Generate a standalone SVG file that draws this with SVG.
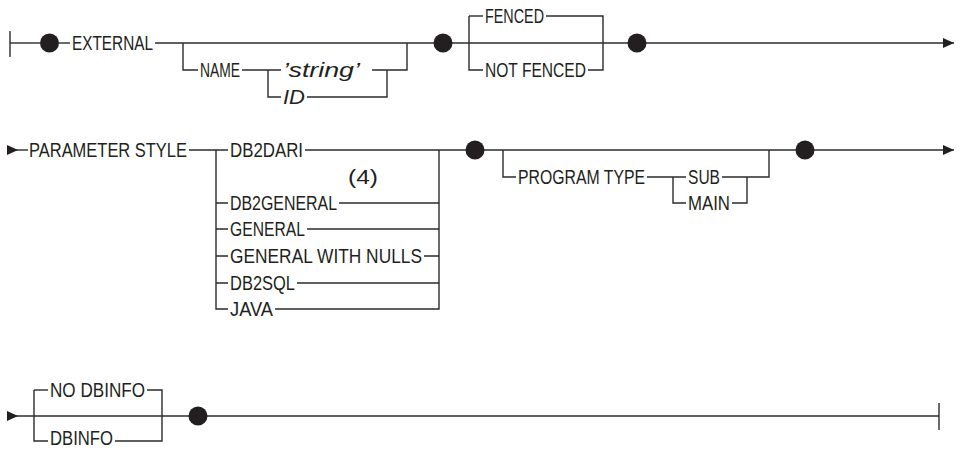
<svg xmlns="http://www.w3.org/2000/svg" width="962" height="450" viewBox="0 0 962 450">
<defs>
<style>
.ln{fill:none;stroke:#2b2b2b;stroke-width:1.4}
.t{font-family:"Liberation Sans",Arial,sans-serif;font-size:20px;fill:#231f20}
.i{font-style:italic}
.dot{fill:#231f20}
</style>
<marker id="ae" markerUnits="userSpaceOnUse" markerWidth="12" markerHeight="10" refX="11" refY="5" orient="auto"><path d="M0 0 L11 5 L0 10 Z" fill="#231f20"/></marker>
<marker id="as" markerUnits="userSpaceOnUse" markerWidth="12" markerHeight="10" refX="0" refY="5" orient="auto"><path d="M0 0 L11 5 L0 10 Z" fill="#231f20"/></marker>
</defs>
<rect width="962" height="450" fill="#ffffff"/>
<g id="connectors" class="ln">
<path d="M10 31 V57"/>
<path d="M10 43 H40"/>
<path d="M59 43 H70"/>
<path d="M155 43 H954" marker-end="url(#ae)"/>
<path d="M183 43 V70 H198"/>
<path d="M242 70 H281"/>
<path d="M268 70 V97 H281"/>
<path d="M372 70 H407 V43"/>
<path d="M307 97 H387 V70"/>
<path d="M469 16 V70 H483"/>
<path d="M469 16 H483"/>
<path d="M546 16 H603 V70 H588"/>
<path d="M7 150 H28" marker-start="url(#as)"/>
<path d="M189 150 H228"/>
<path d="M216 150 V309 H228"/>
<path d="M216 203 H228 M216 229 H228 M216 256 H228 M216 283 H228"/>
<path d="M305 150 H954" marker-end="url(#ae)"/>
<path d="M339 203 H439 M307 229 H439 M424 256 H439 M297 283 H439"/>
<path d="M275 309 H439 V150"/>
<path d="M503 150 V177 H516"/>
<path d="M647 177 H686"/>
<path d="M673 177 V203 H686"/>
<path d="M722 177 H769 V150"/>
<path d="M732 203 H747 V177"/>
<path d="M7 416 H939" marker-start="url(#as)"/>
<path d="M939 403 V430"/>
<path d="M34 390 V441 H48"/>
<path d="M34 390 H48"/>
<path d="M147 390 H162 V441 H115"/>
</g>
<g id="dot1"><circle class="dot" cx="49.5" cy="43" r="9.5"/></g>
<g id="dot2"><circle class="dot" cx="443" cy="43" r="9.5"/></g>
<g id="dot3"><circle class="dot" cx="637" cy="43" r="9.5"/></g>
<g id="dot4"><circle class="dot" cx="475" cy="150" r="9.5"/></g>
<g id="dot5"><circle class="dot" cx="805" cy="150" r="9.5"/></g>
<g id="dot6"><circle class="dot" cx="198" cy="416" r="9.5"/></g>
<g id="n-external"><text class="t" x="72" y="50" textLength="81" lengthAdjust="spacingAndGlyphs">EXTERNAL</text></g>
<g id="n-name"><text class="t" x="200" y="77" textLength="40" lengthAdjust="spacingAndGlyphs">NAME</text></g>
<g id="n-string"><text class="t i" x="283" y="77" textLength="77" lengthAdjust="spacingAndGlyphs">’string’</text></g>
<g id="n-id"><text class="t i" x="283" y="104" textLength="22" lengthAdjust="spacingAndGlyphs">ID</text></g>
<g id="n-fenced"><text class="t" x="485" y="23" textLength="59" lengthAdjust="spacingAndGlyphs">FENCED</text></g>
<g id="n-notfenced"><text class="t" x="485" y="77" textLength="101" lengthAdjust="spacingAndGlyphs">NOT FENCED</text></g>
<g id="n-paramstyle"><text class="t" x="29" y="157" textLength="158" lengthAdjust="spacingAndGlyphs">PARAMETER STYLE</text></g>
<g id="n-db2dari"><text class="t" x="230" y="157" textLength="73" lengthAdjust="spacingAndGlyphs">DB2DARI</text></g>
<g id="n-note4"><text class="t" x="348" y="184" textLength="30" lengthAdjust="spacingAndGlyphs">(4)</text></g>
<g id="n-db2general"><text class="t" x="230" y="210" textLength="107" lengthAdjust="spacingAndGlyphs">DB2GENERAL</text></g>
<g id="n-general"><text class="t" x="230" y="236" textLength="75" lengthAdjust="spacingAndGlyphs">GENERAL</text></g>
<g id="n-generalnulls"><text class="t" x="230" y="263" textLength="192" lengthAdjust="spacingAndGlyphs">GENERAL WITH NULLS</text></g>
<g id="n-db2sql"><text class="t" x="230" y="290" textLength="65" lengthAdjust="spacingAndGlyphs">DB2SQL</text></g>
<g id="n-java"><text class="t" x="230" y="316" textLength="43" lengthAdjust="spacingAndGlyphs">JAVA</text></g>
<g id="n-progtype"><text class="t" x="518" y="184" textLength="127" lengthAdjust="spacingAndGlyphs">PROGRAM TYPE</text></g>
<g id="n-sub"><text class="t" x="688" y="184" textLength="32" lengthAdjust="spacingAndGlyphs">SUB</text></g>
<g id="n-main"><text class="t" x="688" y="210" textLength="42" lengthAdjust="spacingAndGlyphs">MAIN</text></g>
<g id="n-nodbinfo"><text class="t" x="50" y="397" textLength="95" lengthAdjust="spacingAndGlyphs">NO DBINFO</text></g>
<g id="n-dbinfo"><text class="t" x="50" y="445" textLength="63" lengthAdjust="spacingAndGlyphs">DBINFO</text></g>
</svg>
